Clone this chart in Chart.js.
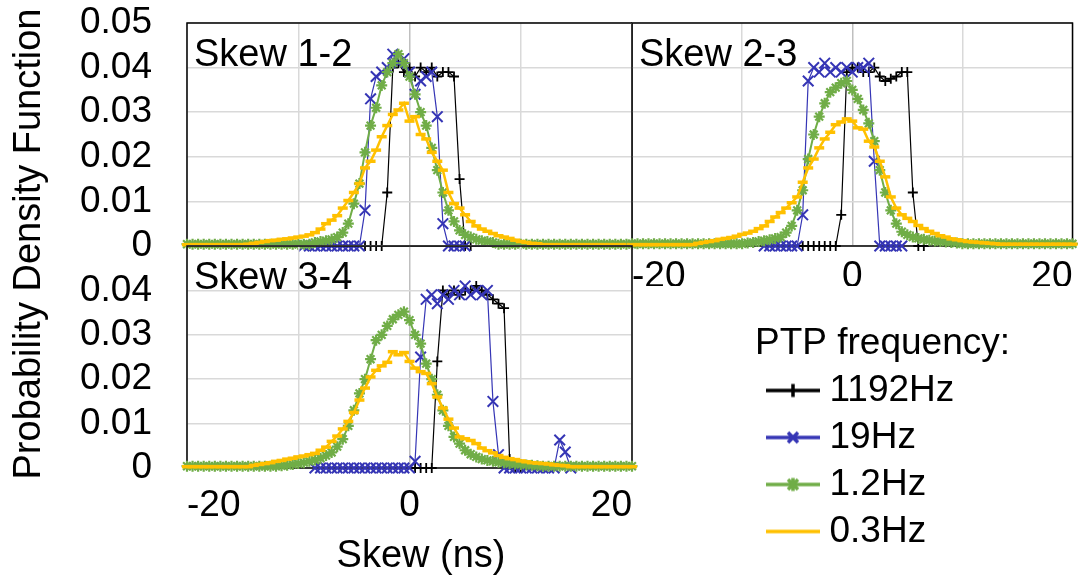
<!DOCTYPE html>
<html>
<head>
<meta charset="utf-8">
<title>Skew PDF</title>
<script src="https://cdn.jsdelivr.net/npm/chart.js@4.4.1/dist/chart.umd.min.js"></script>
<style>
  html, body { margin: 0; padding: 0; background: #fff; overflow: hidden; }
  #wrap { position: relative; width: 1082px; height: 576px; overflow: hidden; }
  #wrap canvas { position: absolute; left: 0; top: 0; }
</style>
</head>
<body>
<div id="wrap">
  <canvas id="skew12" width="1082" height="576"></canvas>
  <canvas id="skew23" width="1082" height="576"></canvas>
  <canvas id="skew34" width="1082" height="576"></canvas>
  <canvas id="legendChart" width="1082" height="1200"></canvas>
</div>
<script>
// ---- data: PDF per 0.5 ns skew bin ----
const binWidth = 0.5;
const seriesLabels = ['1192Hz', '19Hz', '1.2Hz', '0.3Hz'];
const panelNames = ['Skew 1-2', 'Skew 2-3', 'Skew 3-4'];

// Skew 1-2
const skew12_1192Hz = [0, 0, 0, 0, 0.012, 0.040, 0.041, 0.039, 0.040, 0.038, 0.040, 0.039, 0.040, 0.038, 0.039, 0.039, 0.038, 0.015, 0, 0]; // from -4 ns
const skew12_19Hz = [0, 0, 0, 0, 0, 0, 0, 0, 0, 0, 0, 0.008, 0.033, 0.038, 0.039, 0.040, 0.043, 0.041, 0.042, 0.039, 0.034, 0.037, 0.038, 0.039, 0.029, 0.005, 0, 0, 0, 0]; // from -9.5 ns
const skew12_1p2Hz = [
  0.0004, 0.0004, 0.0004, 0.0004, 0.0004, 0.0004, 0.0004, 0.0004, 0.0004, 0.0004, 0.0004, 0.0004, 0.0004, 0.0004, 0.0004, 0.0004, 0.0004, 0.0004, 0.0004, 0.0004, 0.0004, 0.0004, 0.0004,
  0.0008, 0.001, 0.0012, 0.0015, 0.002, 0.003, 0.005, 0.0095, 0.014, 0.021, 0.027, 0.031, 0.036, 0.039, 0.041, 0.043, 0.041, 0.038, 0.034, 0.030, 0.027, 0.022, 0.017, 0.012, 0.008, 0.0055, 0.0035, 0.0025, 0.002, 0.0015, 0.0012, 0.001, 0.0008,
  0.0004, 0.0004, 0.0004, 0.0004, 0.0004, 0.0004, 0.0004, 0.0004, 0.0004, 0.0004, 0.0004, 0.0004, 0.0004, 0.0004, 0.0004, 0.0004, 0.0004, 0.0004, 0.0004, 0.0004, 0.0004, 0.0004, 0.0004, 0.0004, 0.0004
]; // from -20 ns
const skew12_0p3Hz = [
  0.0003, 0.0003, 0.0003, 0.0003, 0.0003, 0.0003, 0.0003, 0.0003, 0.0003, 0.0003, 0.0003,
  0.0004, 0.0006, 0.0008, 0.001, 0.0012, 0.0013, 0.0015, 0.0016, 0.0018, 0.002,
  0.0022, 0.0025, 0.003, 0.0038, 0.005, 0.0058, 0.0068, 0.0085, 0.0102, 0.012,
  0.014, 0.0175, 0.019, 0.0215, 0.0245, 0.027, 0.0295, 0.0305, 0.032, 0.028,
  0.029, 0.025, 0.024, 0.021, 0.019, 0.017, 0.012, 0.0095, 0.0085, 0.007,
  0.0055, 0.0045, 0.0038, 0.0033, 0.0028, 0.0023, 0.002, 0.0017, 0.0013, 0.001,
  0.0008, 0.0006, 0.0005,
  0.0003, 0.0003, 0.0003, 0.0003, 0.0003, 0.0003, 0.0003, 0.0003, 0.0003, 0.0003, 0.0003, 0.0003, 0.0003, 0.0003, 0.0003, 0.0003, 0.0003
]; // from -20 ns

// Skew 2-3
const skew23_1192Hz = [0, 0, 0, 0, 0, 0, 0, 0.007, 0.039, 0.040, 0.040, 0.039, 0.039, 0.040, 0.038, 0.037, 0.0375, 0.038, 0.039, 0.039, 0.012, 0, 0]; // from -4.5 ns
const skew23_19Hz = [0, 0, 0, 0, 0, 0, 0, 0.007, 0.037, 0.040, 0.039, 0.041, 0.039, 0.040, 0.039, 0.040, 0.039, 0.040, 0.040, 0.041, 0.019, 0, 0, 0, 0, 0]; // from -8 ns
const skew23_1p2Hz = [
  0.0005, 0.0005, 0.0005, 0.0005, 0.0005, 0.0005, 0.0005, 0.0005, 0.0005, 0.0005, 0.0005, 0.0005, 0.0005, 0.0005, 0.0005, 0.0005, 0.0005, 0.0005, 0.0005, 0.0005, 0.0005,
  0.0007, 0.0008, 0.001, 0.0012, 0.0014, 0.0017, 0.002, 0.003, 0.0045, 0.008,
  0.0125, 0.0195, 0.025, 0.029, 0.032, 0.0345, 0.0355, 0.0365, 0.037, 0.035,
  0.033, 0.0305, 0.0275, 0.0235, 0.017, 0.012, 0.008, 0.005, 0.0032, 0.0025,
  0.002, 0.0017, 0.0015, 0.0013, 0.0011, 0.001, 0.0009, 0.0008, 0.0007,
  0.0005, 0.0005, 0.0005, 0.0005, 0.0005, 0.0005, 0.0005, 0.0005, 0.0005, 0.0005, 0.0005, 0.0005, 0.0005, 0.0005, 0.0005, 0.0005, 0.0005, 0.0005, 0.0005, 0.0005, 0.0005
]; // from -20 ns
const skew23_0p3Hz = [
  0.0003, 0.0003, 0.0003, 0.0003, 0.0003, 0.0003, 0.0003, 0.0003, 0.0003, 0.0003, 0.0003, 0.0003,
  0.0006, 0.0008, 0.001, 0.0012, 0.0015, 0.0017, 0.0019, 0.0022, 0.0026, 0.0029,
  0.0033, 0.0039, 0.0045, 0.0055, 0.0065, 0.0075, 0.0085, 0.0097, 0.011, 0.0143,
  0.0175, 0.0195, 0.022, 0.024, 0.0255, 0.0272, 0.0278, 0.0285, 0.028, 0.0265,
  0.0262, 0.0235, 0.0222, 0.019, 0.0155, 0.011, 0.0085, 0.007, 0.0062, 0.0055,
  0.0046, 0.0039, 0.0033, 0.0028, 0.0023, 0.002, 0.0016, 0.0014, 0.0012, 0.001,
  0.0009, 0.0008, 0.0007, 0.0006, 0.0005,
  0.0004, 0.0004, 0.0004, 0.0004, 0.0004, 0.0004, 0.0004, 0.0004, 0.0004, 0.0004, 0.0004, 0.0004, 0.0004, 0.0004
]; // from -20 ns

// Skew 3-4
const skew34_1192Hz = [0, 0, 0, 0, 0.024, 0.040, 0.039, 0.040, 0.039, 0.040, 0.040, 0.041, 0.040, 0.039, 0.038, 0.037, 0.036, 0.002, 0, 0]; // from 0.5 ns
const skew34_19Hz = [
  0, 0, 0, 0, 0, 0, 0, 0, 0, 0, 0, 0, 0, 0, 0, 0, 0, 0,
  0.0015, 0.025, 0.038, 0.039, 0.037, 0.039, 0.038, 0.040, 0.039, 0.041,
  0.039, 0.040, 0.039, 0.040, 0.015, 0.003,
  0, 0, 0, 0, 0, 0, 0, 0, 0, 0,
  0.0063, 0.0036, 0
]; // from -8.5 ns
const skew34_1p2Hz = [
  0.0004, 0.0004, 0.0004, 0.0004, 0.0004, 0.0004, 0.0004, 0.0004, 0.0004, 0.0004, 0.0004, 0.0004, 0.0004, 0.0004, 0.0004, 0.0004, 0.0004,
  0.0005, 0.0006, 0.0008, 0.001, 0.0012, 0.0015, 0.0018, 0.0022, 0.0028, 0.0035,
  0.0048, 0.0065, 0.0095, 0.013, 0.0168, 0.020, 0.0245, 0.0288, 0.030, 0.032,
  0.0335, 0.0345, 0.0352, 0.0333, 0.030, 0.028, 0.0235, 0.020, 0.0165, 0.013,
  0.0095, 0.007, 0.0055, 0.004, 0.0031, 0.0025, 0.002, 0.0017, 0.0015, 0.0013,
  0.0012, 0.001, 0.0009, 0.0008, 0.0007, 0.0006, 0.0005,
  0.0004, 0.0004, 0.0004, 0.0004, 0.0004, 0.0004, 0.0004, 0.0004, 0.0004, 0.0004, 0.0004, 0.0004, 0.0004, 0.0004, 0.0004, 0.0004, 0.0004
]; // from -20 ns
const skew34_0p3Hz = [
  0.0003, 0.0003, 0.0003, 0.0003, 0.0003, 0.0003, 0.0003, 0.0003, 0.0003, 0.0003, 0.0003, 0.0003,
  0.0006, 0.0008, 0.001, 0.0012, 0.0015, 0.0017, 0.002, 0.0022, 0.0025, 0.0027,
  0.003, 0.0033, 0.004, 0.0047, 0.006, 0.0072, 0.0088, 0.0105, 0.0125, 0.0153,
  0.018, 0.0205, 0.022, 0.023, 0.0238, 0.0262, 0.0255, 0.026, 0.024, 0.0225,
  0.0217, 0.0213, 0.019, 0.016, 0.0135, 0.011, 0.009, 0.007, 0.0066, 0.0062,
  0.0055, 0.0045, 0.0039, 0.0034, 0.0028, 0.0024, 0.0021, 0.0019, 0.0016, 0.0014,
  0.0012, 0.0011, 0.001, 0.0009, 0.0007, 0.0006, 0.0005,
  0.0003, 0.0003, 0.0003, 0.0003, 0.0003, 0.0003, 0.0003, 0.0003, 0.0003, 0.0003, 0.0003, 0.0003
]; // from -20 ns

// ---- styles ----
Chart.defaults.font.family = "'Liberation Sans', Arial, Helvetica, sans-serif";
Chart.defaults.color = '#000';

const tickFont = { size: 37, lineHeight: 1 };
const seriesStyles = [
  { color: '#000000', lineWidth: 1.2, pointStyle: 'cross', radius: 5, pointWidth: 1.8 },
  { color: '#3535B5', lineWidth: 1.2, pointStyle: 'crossRot', radius: 7.5, pointWidth: 2 },
  { color: '#70AD47', lineWidth: 2, pointStyle: 'star', radius: 5.5, pointWidth: 2.2 },
  { color: '#FFC000', lineWidth: 2.5, pointStyle: 'line', radius: 5, pointWidth: 3.5 }
];

// turns a run of bin values into {x, y} points starting at skew "from"
const toPoints = (from, values) => values.map((y, i) => ({ x: from + i * binWidth, y }));

const makeDatasets = (series) => series.map(([from, values], i) => {
  const s = seriesStyles[i];
  return {
    label: seriesLabels[i],
    data: toPoints(from, values),
    borderColor: s.color,
    backgroundColor: s.color,
    borderWidth: s.lineWidth,
    pointStyle: s.pointStyle,
    pointRadius: s.radius,
    pointBorderWidth: s.pointWidth,
    pointBorderColor: s.color,
    pointBackgroundColor: s.color,
    tension: 0,
    fill: false,
    clip: false,
    order: 3 - i // later series drawn on top, like the original
  };
});

// black box round each plot area, under the data
const framePlugin = {
  id: 'frame',
  beforeDatasetsDraw(chart) {
    const { ctx, chartArea: a } = chart;
    ctx.save();
    ctx.strokeStyle = '#000';
    ctx.lineWidth = 1.5;
    ctx.strokeRect(a.left, a.top, a.right - a.left, a.bottom - a.top);
    ctx.restore();
  }
};

// "Skew x-y" caption in the upper left corner of each panel
const panelLabelPlugin = {
  id: 'panelLabel',
  afterDraw(chart, args, opts) {
    const { ctx, chartArea: a } = chart;
    ctx.save();
    ctx.fillStyle = '#000';
    ctx.font = "38px 'Liberation Sans', Arial, sans-serif";
    ctx.textBaseline = 'alphabetic';
    ctx.fillText(opts.text, a.left + 7, a.top + 43);
    ctx.restore();
  }
};

// shared axis titles for the whole figure
const axisTitlesPlugin = {
  id: 'axisTitles',
  afterDraw(chart) {
    const { ctx } = chart;
    ctx.save();
    ctx.fillStyle = '#000';
    ctx.font = "38px 'Liberation Sans', Arial, sans-serif";
    ctx.textAlign = 'center';
    ctx.textBaseline = 'alphabetic';
    ctx.fillText('Skew (ns)', 421, 567);
    ctx.translate(40, 244);
    ctx.rotate(-Math.PI / 2);
    ctx.fillText('Probability Density Function', 0, 0);
    ctx.restore();
  }
};

const buildPanel = (id, name, series, lay) => new Chart(document.getElementById(id), {
  type: 'line',
  data: { datasets: makeDatasets(series) },
  options: {
    responsive: false,
    animation: false,
    events: [],
    layout: { padding: lay.padding },
    plugins: {
      legend: { display: false },
      tooltip: { enabled: false },
      panelLabel: { text: name }
    },
    scales: {
      x: {
        type: 'linear',
        min: -20,
        max: 20,
        border: { display: false },
        grid: {
          color: (c) => (c.tick && c.tick.value === 0 ? '#bfbfbf' : '#d9d9d9'),
          lineWidth: 1.5,
          drawTicks: false
        },
        ticks: {
          display: lay.showX,
          stepSize: 10,
          autoSkip: false,
          maxRotation: 0,
          align: 'inner',
          padding: lay.xPad,
          font: tickFont,
          color: '#000',
          callback: (v) => (v % 20 === 0 ? String(v) : '')
        },
        afterFit: (s) => {
          s.height = lay.xHeight;
          s.paddingLeft = 0;
          s.paddingRight = 0;
        }
      },
      y: {
        min: 0,
        max: 0.05,
        border: { display: false },
        grid: { color: '#d9d9d9', lineWidth: 1.5, drawTicks: false },
        ticks: {
          display: lay.showY,
          stepSize: 0.01,
          autoSkip: false,
          padding: 35,
          font: tickFont,
          color: '#000',
          callback: (v) => {
            if (Math.abs(v) < 1e-9) return '0';
            if (lay.hideTop && v > 0.0499) return '';
            return v.toFixed(2);
          }
        },
        afterFit: (s) => {
          // fixed axis width, and no extra room reserved for the end labels
          s.width = lay.yWidth;
          s.paddingTop = 0;
          s.paddingBottom = 0;
        }
      }
    }
  },
  plugins: [framePlugin, panelLabelPlugin]
});

buildPanel('skew12', panelNames[0],
  [[-4, skew12_1192Hz], [-9.5, skew12_19Hz], [-20, skew12_1p2Hz], [-20, skew12_0p3Hz]],
  { padding: { left: 0, top: 23, right: 450, bottom: 330 }, yWidth: 187, xHeight: 0, showX: false, xPad: 0, showY: true, hideTop: false });

buildPanel('skew23', panelNames[1],
  [[-4.5, skew23_1192Hz], [-8, skew23_19Hz], [-20, skew23_1p2Hz], [-20, skew23_0p3Hz]],
  { padding: { left: 0, top: 23, right: 5, bottom: 290 }, yWidth: 632, xHeight: 40, showX: true, xPad: 12, showY: false, hideTop: false });

buildPanel('skew34', panelNames[2],
  [[0.5, skew34_1192Hz], [-8.5, skew34_19Hz], [-20, skew34_1p2Hz], [-20, skew34_0p3Hz]],
  { padding: { left: 0, top: 246, right: 450, bottom: 48 }, yWidth: 187, xHeight: 60, showX: true, xPad: 19, showY: true, hideTop: true });

// legend swatch: line with the series marker in the middle
const swatch = (s) => {
  const c = document.createElement('canvas');
  c.width = 64;
  c.height = 20;
  const g = c.getContext('2d');
  g.strokeStyle = s.color;
  g.lineWidth = 3.5;
  g.beginPath();
  g.moveTo(10, 10);
  g.lineTo(64, 10);
  g.stroke();
  const cx = 37, cy = 10, r = 6.5, d = 5;
  g.beginPath();
  if (s.pointStyle === 'cross' || s.pointStyle === 'star') {
    g.moveTo(cx, cy - r); g.lineTo(cx, cy + r);
  }
  if (s.pointStyle === 'crossRot' || s.pointStyle === 'star') {
    g.moveTo(cx - d, cy - d); g.lineTo(cx + d, cy + d);
    g.moveTo(cx + d, cy - d); g.lineTo(cx - d, cy + d);
  }
  g.stroke();
  return c;
};

// legend lives on its own (taller, clipped) canvas so all four rows fit
new Chart(document.getElementById('legendChart'), {
  type: 'line',
  data: { datasets: seriesLabels.map((label, i) => ({ label, data: [], borderColor: seriesStyles[i].color })) },
  options: {
    responsive: false,
    animation: false,
    events: [],
    layout: { padding: { left: 755, top: 325, right: 22, bottom: 0 } },
    scales: { x: { display: false }, y: { display: false } },
    plugins: {
      tooltip: { enabled: false },
      legend: {
        position: 'top',
        align: 'start',
        title: {
          display: true,
          text: 'PTP frequency:',
          position: 'start',
          color: '#000',
          font: { size: 37, lineHeight: 1 },
          padding: 0
        },
        labels: {
          usePointStyle: true,
          pointStyleWidth: 46,
          padding: 10,
          color: '#000',
          font: { size: 37, lineHeight: 1 },
          generateLabels: () => seriesLabels.map((label, i) => ({
            text: label,
            pointStyle: swatch(seriesStyles[i]),
            fillStyle: seriesStyles[i].color,
            strokeStyle: seriesStyles[i].color,
            lineWidth: 0,
            hidden: false,
            datasetIndex: i,
            fontColor: '#000'
          }))
        }
      }
    }
  },
  plugins: [axisTitlesPlugin]
});
</script>
</body>
</html>
